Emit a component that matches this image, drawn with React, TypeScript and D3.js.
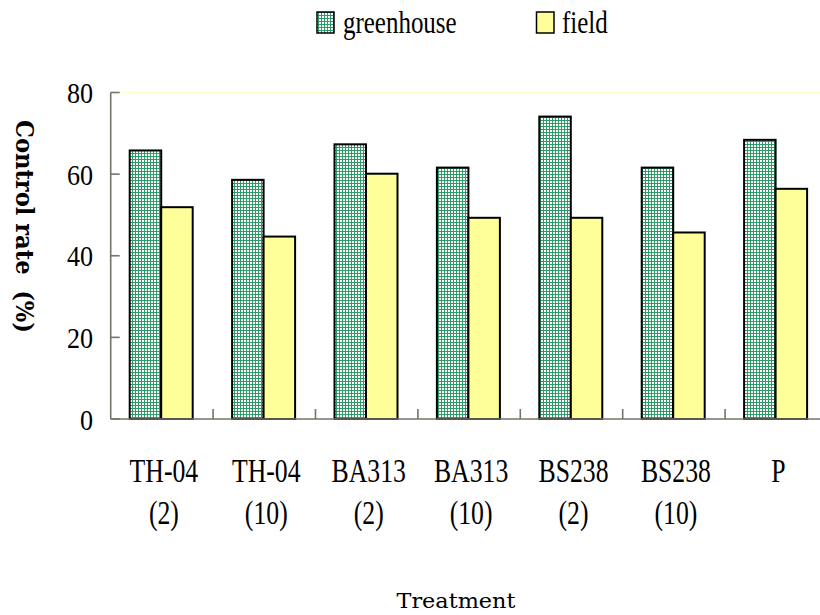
import React from "react";
import * as d3 from "d3";

const categories = ["TH-04|(2)", "TH-04|(10)", "BA313|(2)", "BA313|(10)", "BS238|(2)", "BS238|(10)", "P"];
const greenhouse = [65.8, 58.6, 67.3, 61.6, 74.1, 61.6, 68.4];
const field = [51.9, 44.7, 60.1, 49.3, 49.3, 45.7, 56.4];
const series = ["greenhouse", "field"];
const yTicks = [0, 20, 40, 60, 80];

const W = 820;
const H = 615;
const FONT = "Liberation Serif, Times New Roman, serif";

function CText({ x, y, anchor = "start", size = 30, sx = 0.85, children, fill = "#000" }: any) {
  return (
    <g transform={`translate(${x},${y}) scale(${sx},1)`}>
      <text x={0} y={0} textAnchor={anchor} style={{ fontFamily: FONT, fontSize: size }} fill={fill}>
        {children}
      </text>
    </g>
  );
}

export default function App() {
  const left = 110.7;
  const step = 102.4;
  const x0 = d3
    .scaleBand<string>()
    .domain(categories)
    .range([left, left + step * categories.length])
    .padding(0);
  const x1 = d3.scaleBand<string>().domain(series).range([19, 82]).padding(0);
  const y = d3.scaleLinear().domain([0, 80]).range([419, 92.5]);
  const values: Record<string, number[]> = { greenhouse, field };
  const axisColor = "#74746a";

  return (
    <svg width={W} height={H} style={{ position: "absolute", left: 0, top: 0, background: "#fff" }}>
      <defs>
        <pattern id="grid" width={3} height={3} patternUnits="userSpaceOnUse">
          <rect width={3} height={3} fill="#ffffff" />
          <rect x={0} y={0} width={1} height={3} fill="#2e9a66" />
          <rect x={0} y={0} width={3} height={1} fill="#2e9a66" />
        </pattern>
      </defs>
      <rect width={W} height={H} fill="#fff" />

      {/* top plot border */}
      <line x1={120} x2={W} y1={y(80)} y2={y(80)} stroke="#ffffc8" strokeWidth={1.5} />

      {/* bars */}
      {categories.map((c, i) => (
        <g key={c}>
          {series.map((s) => {
            const v = values[s][i];
            return (
              <rect
                key={s}
                x={(x0(c) as number) + (x1(s) as number)}
                y={y(v)}
                width={x1.bandwidth()}
                height={y(0) - y(v)}
                fill={s === "greenhouse" ? "url(#grid)" : "#ffff99"}
                stroke="#000"
                strokeWidth={2}
              />
            );
          })}
        </g>
      ))}

      {/* y axis */}
      <line x1={left} x2={left} y1={y(80)} y2={y(0)} stroke={axisColor} strokeWidth={1.6} />
      {yTicks.map((t) => (
        <g key={t}>
          <line x1={left} x2={left + 9} y1={y(t)} y2={y(t)} stroke={axisColor} strokeWidth={1.6} />
          <CText x={93} y={y(t) + 10.5} anchor="end" size={30} sx={0.87}>
            {t}
          </CText>
        </g>
      ))}

      {/* x axis */}
      <line x1={left} x2={W} y1={y(0)} y2={y(0)} stroke={axisColor} strokeWidth={1.6} />
      {categories.map((c, i) =>
        i === 0 ? null : (
          <line
            key={c}
            x1={x0(c) as number}
            x2={x0(c) as number}
            y1={y(0)}
            y2={y(0) - 10}
            stroke={axisColor}
            strokeWidth={1.6}
          />
        )
      )}
      {categories.map((c) => {
        const cx = (x0(c) as number) + x0.bandwidth() / 2 + 2;
        const parts = c.split("|");
        return (
          <g key={c}>
            {parts.map((p, j) => (
              <CText key={j} x={cx} y={482 + j * 42} anchor="middle" size={33} sx={0.78}>
                {p}
              </CText>
            ))}
          </g>
        );
      })}

      {/* legend */}
      <rect x={317} y={12} width={17} height={21} fill="url(#grid)" stroke="#000" strokeWidth={1.5} />
      <CText x={343} y={33} size={32} sx={0.78}>greenhouse</CText>
      <rect x={536.5} y={12} width={17.5} height={21} fill="#ffff99" stroke="#000" strokeWidth={1.5} />
      <CText x={562} y={33} size={32} sx={0.78}>field</CText>

      {/* axis titles */}
      <text
        transform={`translate(16,226.5) rotate(90)`}
        textAnchor="middle"
        style={{ fontFamily: "DejaVu Serif, serif", fontWeight: "bold", fontSize: 25 }}
        textLength={213}
        lengthAdjust="spacingAndGlyphs"
      >
        {"Control rate\u00A0\u00A0(%)"}
      </text>
      <text
        x={456}
        y={608}
        textAnchor="middle"
        style={{ fontFamily: "DejaVu Serif, serif", fontSize: 21 }}
        textLength={119}
        lengthAdjust="spacingAndGlyphs"
      >
        Treatment
      </text>
    </svg>
  );
}
